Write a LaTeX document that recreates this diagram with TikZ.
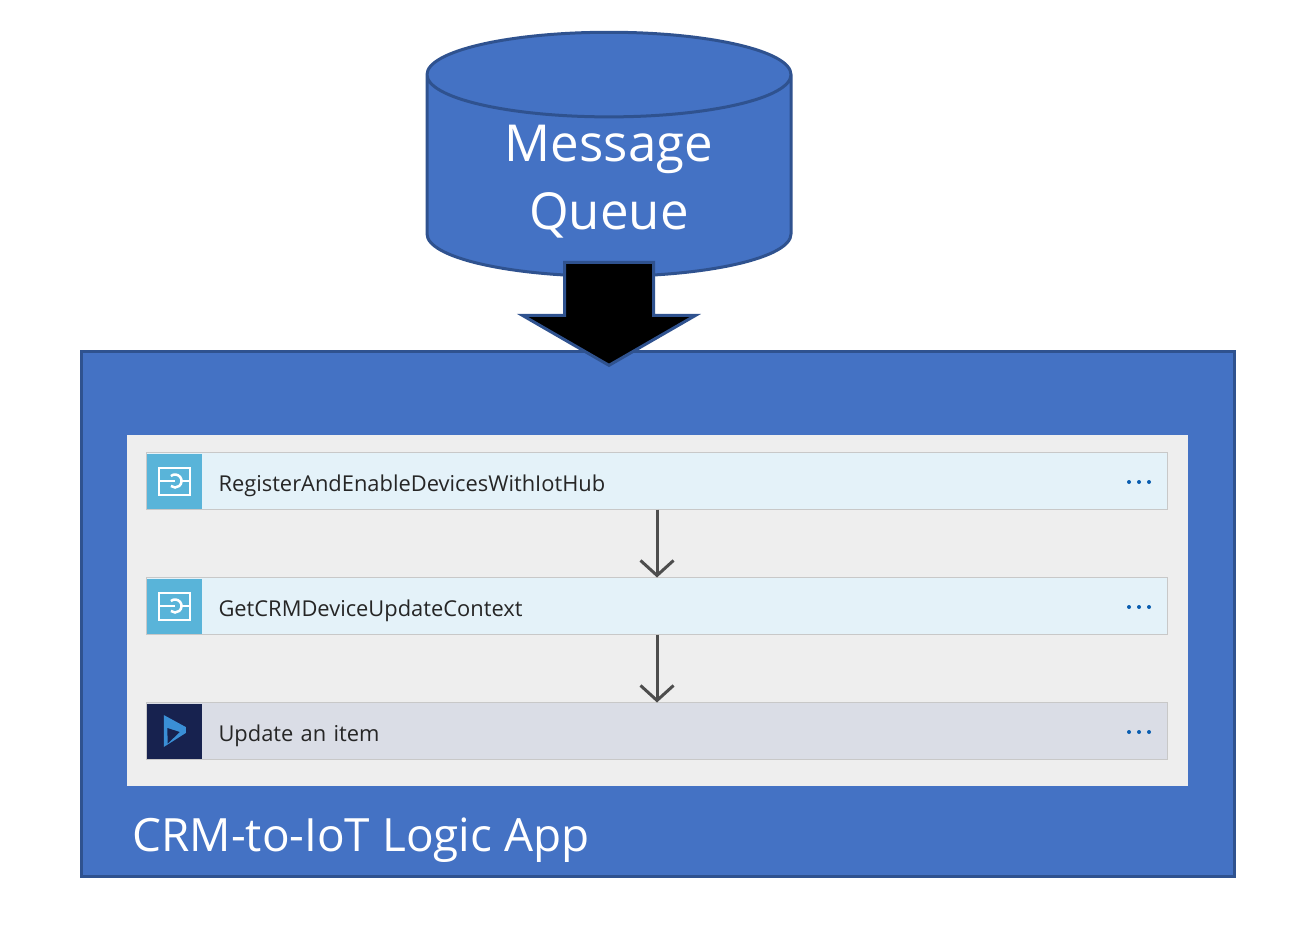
\documentclass[tikz,border=0pt]{standalone}
\usepackage{fontspec}
\setmainfont{Open Sans}
\usetikzlibrary{positioning, arrows.meta, shapes.geometric, shapes.arrows}

\definecolor{shapeblue}{HTML}{4472C4}
\definecolor{shapeedge}{HTML}{2F528F}
\definecolor{panelgrey}{HTML}{EEEEEE}
\definecolor{stepedge}{HTML}{C8C8C8}
\definecolor{steplight}{HTML}{E4F2F9}
\definecolor{stepdark}{HTML}{DADDE6}
\definecolor{iconlight}{HTML}{59B4D9}
\definecolor{icondark}{HTML}{17224F}
\definecolor{logoblue}{HTML}{3A8FD6}
\definecolor{flowgrey}{HTML}{4D4D4D}
\definecolor{dotblue}{HTML}{0A5EB0}

\tikzset{
	bigshape/.style={draw=shapeedge, fill=shapeblue, line width=0.06cm, outer sep=0pt, text=white},
	stepbox/.style={rectangle, draw=stepedge, line width=0.02cm, minimum height=1.14cm, minimum width=20.42cm, text width=17.54cm, inner xsep=1.44cm, inner ysep=0pt, outer sep=0pt, align=left, text height=0.5cm, text depth=0.07cm, font=\fontsize{12.45}{14}\selectfont, text=black!85},
	iconbox/.style={rectangle, minimum height=1.10cm, minimum width=1.09cm, inner sep=0pt, outer sep=0pt, anchor=west},
	flowarrow/.style={draw=flowgrey, line width=0.06cm, -{Straight Barb[length=0.3cm, width=0.66cm]}},
	connecticon/.pic={
		\draw[white, line width=0.04cm] (-0.31,-0.27) rectangle (0.31,0.27);
		\draw[white, line width=0.04cm] (-0.31,0) -- (0.02,0);
		\draw[white, line width=0.04cm] (0.14,0) -- (0.31,0);
		\draw[white, line width=0.05cm] (0.016,0) ++(130:0.13) arc (130:-130:0.13);
	},
	logoicon/.pic={
		\fill[logoblue] (-0.21,0.32) -- (0.23,0.08) -- (0.23,-0.04) -- (-0.21,-0.32) -- cycle;
		\fill[icondark] (-0.14,0.06) -- (0.11,-0.02) -- (-0.13,-0.25) -- cycle;
	},
	moredots/.pic={
		\foreach \i in {-0.2, 0, 0.2} \fill[dotblue] (\i,0) circle (0.04);
	}
}

\begin{document}
\begin{tikzpicture}
	\useasboundingbox (0,0) rectangle (26.3,18.98);
	\node[bigshape, cylinder, shape border rotate=90, aspect=0.385, minimum width=7.28cm, minimum height=4.88cm, align=center, font=\fontsize{29}{39}\selectfont] (queue) at (12.18, 15.35) {Message\\Queue};
	\node[bigshape, rectangle, minimum width=23.06cm, minimum height=10.50cm] (app) at (13.15, 6.71) {};
	\node[rectangle, fill=panelgrey, minimum width=21.22cm, minimum height=7.02cm, inner sep=0pt] (panel) at (13.15, 6.77) {};
	\node[stepbox, fill=steplight] (register) at (13.14, 9.36) {RegisterAndEnableDevicesWithIotHub};
	\node[stepbox, fill=steplight, below=1.36cm of register] (getupdate) {GetCRMDeviceUpdateContext};
	\node[stepbox, fill=stepdark, below=1.36cm of getupdate] (update) {Update an item};
	\node[iconbox, fill=iconlight, xshift=0.01cm] (registericon) at (register.west) {};
	\node[iconbox, fill=iconlight, xshift=0.01cm] (getupdateicon) at (getupdate.west) {};
	\node[iconbox, fill=icondark, xshift=0.01cm] (updateicon) at (update.west) {};
	\pic at (registericon) {connecticon};
	\pic at (getupdateicon) {connecticon};
	\pic at (updateicon) {logoicon};
	\pic at ([xshift=-0.57cm, yshift=-0.02cm]register.east) {moredots};
	\pic at ([xshift=-0.57cm, yshift=-0.02cm]getupdate.east) {moredots};
	\pic at ([xshift=-0.57cm, yshift=-0.02cm]update.east) {moredots};
	\draw[flowarrow] (register) -- (getupdate);
	\draw[flowarrow] (getupdate) -- (update);
	\node[anchor=west, inner sep=0pt, text=white, font=\fontsize{26.1}{32}\selectfont] (applabel) at (2.64, 2.18) {CRM-to-IoT Logic App};
	\node[single arrow, shape border rotate=270, draw=shapeedge, fill=black, line width=0.06cm, inner xsep=0.86cm, inner ysep=0pt, outer sep=0pt, minimum width=3.44cm, minimum height=2.06cm, single arrow head extend=0.84cm, single arrow tip angle=120] (inflow) at (12.18, 12.96) {};
\end{tikzpicture}
\end{document}
